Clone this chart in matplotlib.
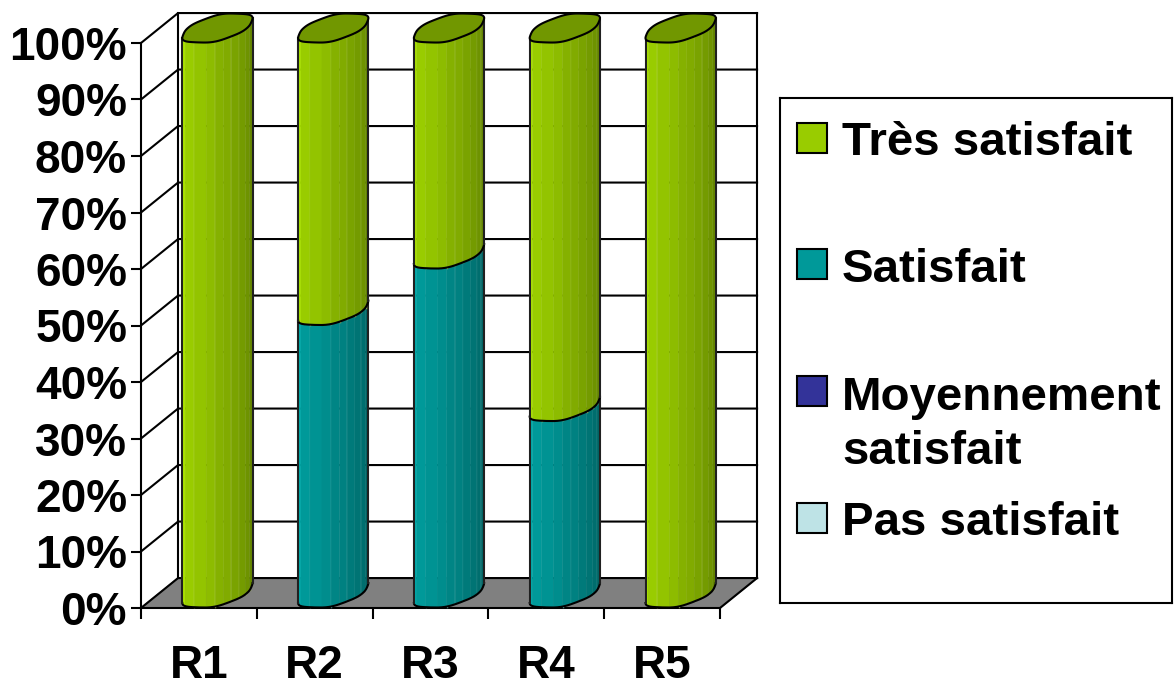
import numpy as np
import matplotlib
matplotlib.use('Agg')
import matplotlib.pyplot as plt
from matplotlib.ticker import FuncFormatter

plt.rcParams['font.family'] = ['Liberation Sans', 'DejaVu Sans']
plt.rcParams['font.weight'] = 'bold'

# data, percent per response, stacked bottom to top
categories = ['R1', 'R2', 'R3', 'R4', 'R5']
pas_satisfait = [0, 0, 0, 0, 0]
moyen_satisfait = [0, 0, 0, 0, 0]
satisfait = [0, 50, 60, 33, 0]
tres_satisfait = [100, 50, 40, 67, 100]

series = [pas_satisfait, moyen_satisfait, satisfait, tres_satisfait]
colors = ['#BEE3E6', '#333399', '#009999', '#99CC00']
legend_labels = ['Très satisfait', 'Satisfait', 'Moyennement\nsatisfait', 'Pas satisfait']
legend_colors = ['#99CC00', '#009999', '#333399', '#BEE3E6']

LW = 1.5
DEPTH_X, DEPTH_Y = 0.32, 5.3    # 3d offset of the back wall
RAD_X, RAD_Y = 0.256, 2.65      # cylinder ellipse, in data units
SKEW_X = 0.16

# facet borders across the cylinder (fraction of its width) and their brightness
facet_edges = [0, .04, .17, .34, .47, .59, .70, .81, .90, .96, 1]
facet_shade = [1.12, 1.0, .96, .92, .87, .84, .80, .76, .72, .66]

T = np.linspace(0, 2*np.pi, 721)[:-1]


def ellipse(cx, y):
    """squarish, slightly bumpy ellipse like the low-poly one of the old chart"""
    c, s = np.cos(T), np.sin(T)
    c = np.sign(c)*np.abs(c)**.9
    s = np.sign(s)*np.abs(s)**.9
    bump = 1 + .022*np.cos(6*T + .6)
    x = cx + SKEW_X + (RAD_X*c + SKEW_X*s)*bump*.98
    yy = y + RAD_Y + RAD_Y*s*bump*.98
    return x, yy


def front_curve(cx, y):
    """lower half of the ellipse, left to right"""
    x, yy = ellipse(cx, y)
    il = np.argmin(x)
    x, yy = np.roll(x, -il), np.roll(yy, -il)
    ir = np.argmax(x)
    return np.maximum.accumulate(x[:ir+1]), yy[:ir+1]


def shade(col, f):
    rgb = np.array(matplotlib.colors.to_rgb(col))*f
    return np.clip(rgb, 0, 1)


def draw_segment(ax, cx, y0, y1, col):
    x, low = front_curve(cx, y0)
    _, high = front_curve(cx, y1)
    for k in range(len(facet_shade)):
        a = x[0] + facet_edges[k]*(x[-1]-x[0])
        b = x[0] + facet_edges[k+1]*(x[-1]-x[0])
        px = np.linspace(a, b, 12)
        py0 = np.interp(px, x, low)
        py1 = np.interp(px, x, high)
        c = shade(col, facet_shade[k])
        ax.fill(np.r_[px, px[::-1]], np.r_[py0, py1[::-1]], color=c, lw=.3, clip_on=False, zorder=3)
        if k >= 1 and k < len(facet_shade)-1 and k != 2:
            # light seam between facets
            seam = shade(col, facet_shade[k])*.55 + .4
            ax.plot([b, b], [py0[-1], py1[-1]], color=seam, lw=1, clip_on=False, zorder=3)
    ax.plot(x, low, color='k', lw=LW, clip_on=False, zorder=3)
    ax.plot([x[0], x[0]], [low[0], high[0]], color='#202020', lw=LW, clip_on=False, zorder=3)
    ax.plot([x[-1], x[-1]], [low[-1], high[-1]], color='#202020', lw=LW, clip_on=False, zorder=3)


fig = plt.figure(figsize=(11.76, 6.86), dpi=100)
ax = fig.add_axes([141/1176, 78/686, 579/1176, 565/686])
ax.set_xlim(0, 5)
ax.set_ylim(0, 100)
ax.patch.set_visible(False)

# floor and walls
ax.fill([0, DEPTH_X, 5+DEPTH_X, 5], [0, DEPTH_Y, DEPTH_Y, 0], color='#808080', clip_on=False, zorder=1)
yticks = np.arange(0, 101, 10)
for v in yticks:
    ax.plot([0, DEPTH_X, 5+DEPTH_X], [v, v+DEPTH_Y, v+DEPTH_Y], color='k', lw=LW, clip_on=False, zorder=1)
ax.plot([DEPTH_X, DEPTH_X], [DEPTH_Y, 100+DEPTH_Y], color='k', lw=LW, clip_on=False, zorder=1)
ax.plot([5+DEPTH_X, 5+DEPTH_X], [DEPTH_Y, 100+DEPTH_Y], color='k', lw=LW, clip_on=False, zorder=1)
ax.plot([5, 5+DEPTH_X], [0, DEPTH_Y], color='k', lw=LW, clip_on=False, zorder=1)

# cylinders
for i in range(len(categories)):
    cx = i + .5
    bottom = 0
    for vals, col in zip(series, colors):
        v = vals[i]
        if v <= 0:
            continue
        draw_segment(ax, cx, bottom, bottom+v, col)
        bottom += v
        top_col = col
    ex, ey = ellipse(cx, bottom)
    ax.fill(ex, ey, facecolor=shade(top_col, .74), edgecolor='k', lw=LW, clip_on=False, zorder=3)

# axes
for s in ['top', 'right']:
    ax.spines[s].set_visible(False)
for s in ['left', 'bottom']:
    ax.spines[s].set_linewidth(LW)
ax.set_yticks(yticks)
ax.yaxis.set_major_formatter(FuncFormatter(lambda v, p: '%d%%' % v))
ax.tick_params(axis='y', length=7, width=LW, pad=3, labelsize=33)
ax.set_xticks(np.arange(0, 6))
ax.set_xticklabels([])
ax.set_xticks(np.arange(len(categories)) + .5, minor=True)
ax.set_xticklabels(categories, minor=True)
ax.tick_params(axis='x', which='major', length=8, width=LW)
ax.tick_params(axis='x', which='minor', length=0, pad=26, labelsize=33)

# legend
lax = fig.add_axes([780/1176, 83/686, 392/1176, 505/686])
lax.set_xlim(0, 392)
lax.set_ylim(3.675, -0.312)
lax.set_xticks([])
lax.set_yticks([])
for s in lax.spines.values():
    s.set_linewidth(LW)
for row, (lab, col) in enumerate(zip(legend_labels, legend_colors)):
    lax.plot(32, row, 's', ms=21.5, mfc=col, mec='k', mew=LW)
    # baseline anchor is the last line of the label
    extra = lab.count('\n')*55/126.67
    lax.text(62, row+.14+extra, lab, fontsize=34.2, va='baseline', ha='left', linespacing=1.27)

fig.savefig('out.png', dpi=100)
